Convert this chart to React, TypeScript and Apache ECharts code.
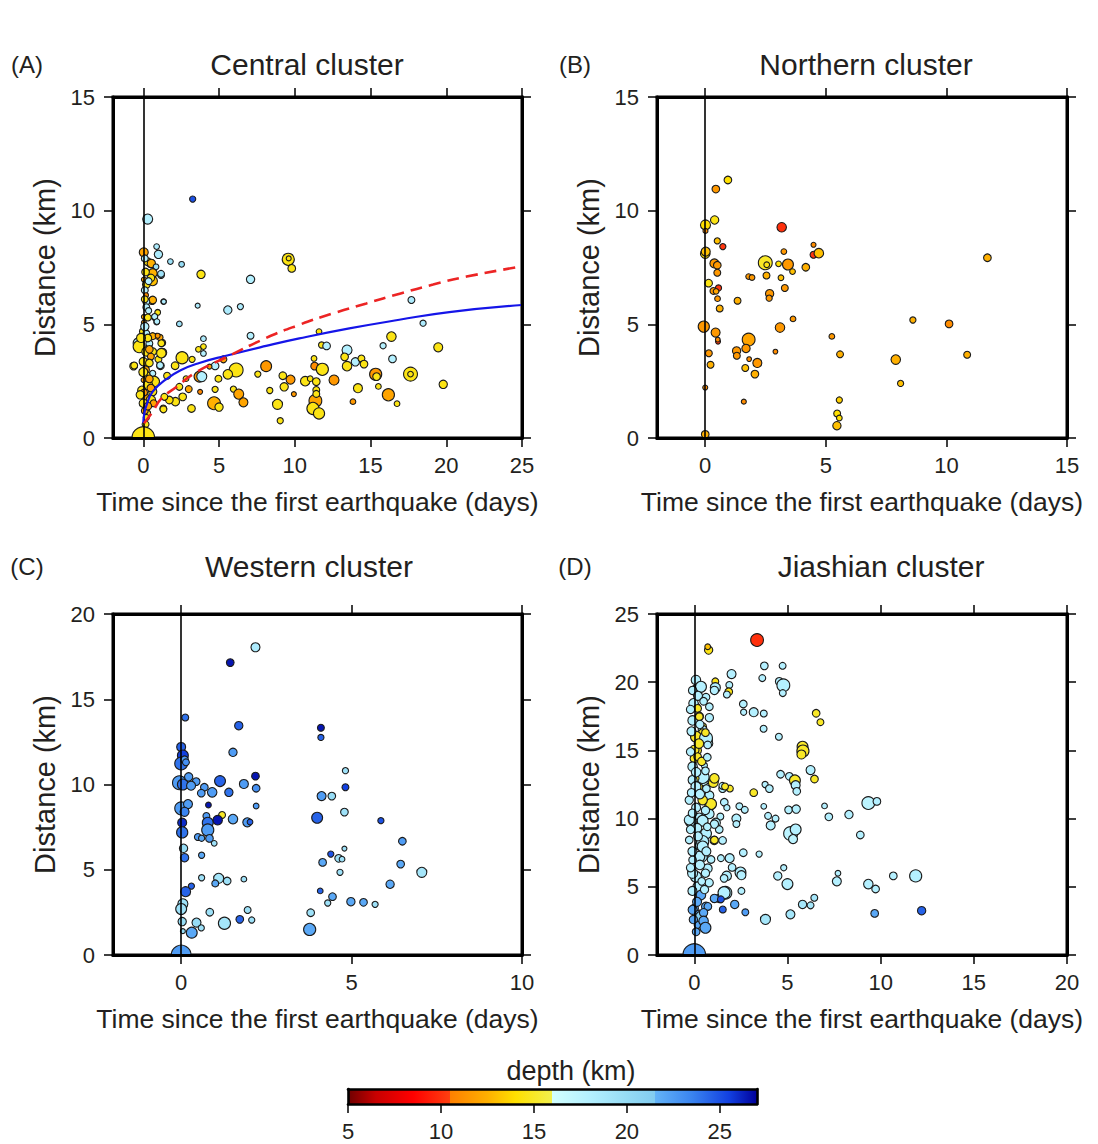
import React, { useEffect, useRef } from "react";
import * as echarts from "echarts";

// ---------- DATA ----------
// each quake: [days since first event, distance (km), depth (km), magnitude-like size class]
const centralQuakes = [
  [3.26,10.51,25,1.8],[0.29,9.63,18,3.6],[0.88,8.42,18.5,1.5],[1.0,8.08,18.5,2.9],[0.03,8.17,12,3.2],
  [1.79,7.76,19.5,1.5],[2.53,7.64,20,1.5],[3.81,7.2,14.5,2.9],[7.08,6.98,18,2.9],[9.57,7.86,14.5,4.3],
  [9.6,7.9,14.5,1.0],[9.8,7.46,14.5,2.6],[1.17,7.17,19,2.2],[0.49,7.68,12.5,2.9],[0.62,6.91,13,3.4],
  [1.34,6.0,18.5,1.5],[3.59,5.82,18.5,1.0],[5.58,5.63,18.5,2.9],[6.41,5.78,18.5,1.8],[17.7,6.07,18.5,2.2],
  [18.47,5.05,18.5,1.8],[2.38,5.02,19.5,1.5],[0.58,6.04,12.5,2.6],[0.74,5.31,18,1.8],[0.88,5.1,18,1.5],
  [0.95,5.55,14,1.0],[7.08,4.5,18,2.2],[11.6,4.68,14,1.5],[3.97,4.37,18.5,1.5],[16.38,4.46,14.5,3.4],
  [19.47,3.99,14.5,3.2],[11.77,4.09,14.5,1.8],[12.1,4.05,18,2.6],[15.83,4.06,18,1.8],[13.45,3.87,18,3.6],
  [3.97,4.02,14.5,1.5],[3.64,3.9,14.5,1.5],[3.97,3.72,18,1.5],[1.25,4.19,14.5,2.2],[1.25,3.75,13.5,3.2],
  [1.1,4.42,12,1.8],[0.88,4.48,11.5,1.5],[2.56,3.53,14.5,4.3],[3.22,3.46,14.5,1.8],[2.1,3.18,14.5,2.6],
  [1.13,3.18,18,2.6],[-0.64,3.16,14.5,2.6],[1.0,3.46,14.5,2.2],[4.74,3.17,18,2.6],[4.37,3.14,11.5,1.0],
  [5.29,3.46,12,2.2],[6.13,2.99,14.5,4.8],[5.58,2.8,14.5,3.4],[8.11,3.16,11.5,3.9],[7.56,2.81,14.5,1.8],
  [11.31,3.16,11,2.6],[11.27,3.5,14.5,1.5],[11.82,3.02,14.5,4.3],[13.29,3.57,14.5,2.6],[13.45,3.16,14.5,3.4],
  [14.0,3.35,18,2.9],[14.4,3.5,14.5,2.2],[14.57,3.25,14.5,2.6],[16.45,3.48,18,2.6],[15.34,2.8,11.5,4.3],
  [15.4,2.7,14.5,2.6],[17.64,2.81,14.5,4.8],[17.64,2.81,14.5,1.5],[19.8,2.36,14.5,2.9],[1.57,2.74,14.5,2.2],
  [3.71,2.7,11.5,3.9],[3.86,2.7,18,3.6],[4.96,2.61,14.5,2.2],[9.21,2.74,14.5,2.6],[9.72,2.57,11.5,3.2],
  [10.69,2.5,14.5,3.4],[11.02,2.61,14.5,1.5],[11.42,2.48,14.5,2.6],[12.59,2.55,11.5,3.6],[2.82,2.61,14.5,1.5],
  [2.38,2.25,14.5,2.2],[3.0,2.15,12,2.2],[3.75,2.03,10.8,1.0],[4.74,2.14,14.5,1.8],[5.95,2.15,14.5,1.8],
  [6.3,1.93,12,3.6],[6.61,1.57,12,3.2],[9.3,2.25,14.5,2.9],[11.42,2.11,14.5,2.2],[14.17,2.19,14.5,3.2],
  [15.52,2.27,14.5,1.5],[16.18,1.9,12,4.3],[9.94,1.93,11.5,1.0],[8.35,2.09,14.5,1.8],[4.67,1.53,12.5,4.5],
  [5.0,1.36,14.5,2.9],[8.86,1.48,14.5,3.6],[11.36,1.64,12,4.5],[11.2,1.3,14.5,4.3],[11.6,1.08,14.5,4.0],
  [11.42,1.94,14.5,2.2],[13.84,1.6,11.5,1.5],[16.75,1.51,14.5,1.5],[9.04,0.76,14.5,1.8],[2.12,1.6,14.5,2.9],
  [1.72,1.67,14,2.6],[1.39,1.81,14.5,2.2],[2.6,1.81,14.5,2.6],[1.32,1.3,14.5,2.2],[3.18,1.3,14.5,2.6],
  [0.28,7.76,14.5,2.6],[0.53,7.68,12.5,2.9],[0.84,7.53,19.5,1.5],[0.62,7.25,12.5,3.2],[0.5,7.04,14.5,2.6],
  [1.17,7.22,19.5,2.2],[0.04,6.97,12,1.0],[0.2,6.75,14.5,2.6],[0.1,6.5,18,2.2],[0.18,6.28,11,1.0],
  [0.62,6.07,12.5,2.6],[0.2,5.99,18,2.2],[0.2,5.75,18,2.2],[1.35,6.0,18.5,1.0],[0.95,5.52,14.5,1.5],
  [0.75,5.34,18,1.8],[0.9,5.12,18,1.5],[0.04,5.33,12,1.0],[0.04,5.07,12,1.0],[0,4.68,14.5,2.6],
  [0.2,4.6,18,2.2],[0.62,4.48,12.5,2.2],[0.95,4.5,11.5,1.0],[-0.31,4.17,18,3.9],[-0.27,4.02,14.5,4.3],
  [0.4,4.16,18,2.2],[1.19,4.17,14.5,2.2],[0.2,3.8,14.5,3.2],[0.62,3.8,14.5,2.6],[1.19,3.73,14.5,3.4],
  [0.5,3.58,12,2.2],[-0.6,3.19,14.5,2.2],[0,3.36,14.5,2.9],[0.4,3.3,14.5,2.6],[1.11,3.2,18,2.2],
  [0.62,2.84,18,1.8],[0.2,2.77,14.5,2.6],[0.71,2.48,14.5,3.9],[0.02,2.55,12,1.0],[0.31,2.33,14.5,3.4],
  [-0.1,2.1,14.5,2.9],[0.62,2.04,14.5,2.9],[0.1,1.82,12,2.6],[0.5,1.67,14.5,3.4],[0,1.53,14.5,2.9],
  [0.68,1.53,12,2.2],[0.28,1.09,14.5,1.8],[1.33,1.26,14.5,2.2],[0.1,7.9,18,2.2],[0.15,3.0,12,2.6],
  [0.3,4.4,14.5,2.6],[0.05,2.0,11.5,2.2],[0.1,1.2,12,2.2],[0.2,0.9,14.5,1.8],[0.35,5.6,18,1.8],
  [0.15,7.3,14.5,2.6],[0.35,6.9,18,2.2],[0.1,6.1,14.5,2.2],[0.3,5.3,14.5,2.2],[0.1,4.9,18,2.9],
  [-0.15,4.4,14.5,3.2],[0.4,3.9,12,2.6],[0.0,2.9,14.5,3.2],[0.4,2.6,12,2.6],[-0.2,1.9,14.5,2.9],
  [0.3,1.4,12,2.6],[0.5,2.2,12,2.6],[0.15,0.6,14.5,2.2],
  [0,0,14.5,6.6]
];

const northernQuakes = [
  [0.94,11.35,14,2.6],[0.44,10.95,11.5,2.6],[0.39,9.59,14.5,2.9],[0.01,9.37,14,3.6],[0.01,9.11,11,1.0],
  [3.17,9.27,10,3.4],[0.5,8.67,13,1.8],[0.73,8.42,10.2,1.8],[0,8.11,14,3.4],[0.02,8.2,13,3.2],
  [3.26,8.2,11.5,1.5],[4.49,8.5,11,1.0],[4.49,8.06,10.2,2.2],[4.71,8.13,13,3.4],[2.49,7.71,15,4.8],
  [2.55,7.62,14.5,1.5],[3.04,7.66,14,1.5],[3.43,7.63,11.5,3.9],[3.62,7.32,13,1.5],[4.17,7.51,12.5,2.6],
  [0.38,7.68,11.5,3.2],[0.5,7.6,11.5,2.6],[0.5,7.27,11.5,2.2],[1.8,7.1,11.5,1.5],[1.94,7.06,11.5,1.5],
  [2.54,7.15,12.5,2.2],[3.14,7.05,13,1.5],[0.14,6.81,14.5,2.6],[0.55,6.6,10.2,1.8],[0.34,6.47,11.5,2.2],
  [0.45,6.45,12,1.5],[0.51,6.13,11.5,1.5],[1.34,6.04,12.5,2.2],[2.67,6.35,11.5,2.9],[2.65,6.15,11.5,1.8],
  [3.3,6.6,11.5,2.2],[0.6,5.7,12.5,2.2],[3.64,5.24,11.5,1.5],[-0.06,4.9,11.5,4.0],[3.1,4.86,11.5,3.4],
  [0.43,4.64,11.5,3.2],[0.53,4.24,10.2,1.0],[0.52,4.33,11,0.8],[1.8,4.33,12,4.5],[1.69,3.94,11.5,2.9],
  [1.3,3.83,11.5,2.9],[1.31,3.62,11.5,2.2],[0.15,3.73,11.5,2.2],[0.22,3.22,12.5,2.2],[1.82,3.47,11,0.8],
  [2.16,3.3,11.5,3.2],[1.66,3.08,13,2.2],[2.06,2.81,12.5,2.6],[2.91,3.8,11,0.8],[5.25,4.47,11.5,1.5],
  [5.59,3.68,12.5,2.2],[8.61,5.19,12.5,1.8],[10.11,5.02,11,2.6],[11.7,7.93,12.5,2.6],[7.9,3.45,12.5,3.4],
  [10.86,3.66,12.5,2.2],[8.1,2.4,13,1.8],[0,2.22,11,1.0],[1.6,1.6,11,1.0],[5.56,1.67,13.5,1.8],
  [5.47,1.08,14,2.2],[5.56,0.88,14,1.5],[5.46,0.54,13,2.9],[0,0.16,12.5,2.6]
];

const westernQuakes = [
  [2.18,18.05,18.5,3.2],[1.44,17.15,26.5,2.6],[0.12,13.93,24,2.2],[1.69,13.45,24.5,2.9],[4.1,13.33,26.5,2.2],
  [4.1,12.76,24.5,1.8],[1.52,11.89,22.5,2.9],[0,12.2,24.5,3.2],[0.05,11.7,25.5,3.9],[0,11.23,24,4.5],
  [0.1,11.45,22.5,2.6],[0.14,11.3,23,2.2],[2.18,10.49,26.5,2.6],[4.82,10.81,19.5,1.8],[4.82,9.84,25.5,2.2],
  [-0.05,10.1,22.5,4.8],[0.05,10.0,24,3.9],[0.22,10.45,22.5,2.9],[0.44,10.17,22.5,2.6],[0.29,9.93,22.5,3.2],
  [0.68,9.84,22.5,2.6],[0.59,9.49,22.5,2.6],[0.91,9.54,22.5,3.4],[1.14,10.2,24.5,3.9],[1.4,9.54,24,2.9],
  [1.84,10.03,22.5,3.2],[2.2,9.78,23,2.6],[4.12,9.32,22.5,3.2],[4.42,9.32,20,2.6],[2.2,8.74,22.5,1.5],
  [0,8.6,22.5,4.5],[0.2,8.85,22.5,3.2],[0.1,8.4,23.5,3.2],[0.8,8.8,26.5,1.5],[0.74,8.15,22.5,2.2],
  [1.2,8.21,15,2.2],[1.07,7.91,26.5,3.4],[0.78,7.76,24,3.9],[0.78,7.33,22.5,4.3],[1.52,7.97,22,3.4],
  [1.94,7.78,22.5,3.2],[2.02,7.8,24.5,1.5],[4.79,8.38,19.5,2.6],[3.99,8.05,24.5,3.9],[5.86,7.88,25,1.8],
  [0.03,7.76,26,3.2],[0.03,7.19,24,4.0],[0.49,6.92,22.5,2.2],[0.6,6.85,22,1.8],[0.83,6.84,22.5,2.6],
  [0.97,6.55,19.5,1.5],[6.49,6.67,22.5,2.6],[0.07,6.26,20,2.9],[0.1,5.71,24,2.9],[0.6,5.85,22,1.8],
  [4.39,5.92,25,1.8],[4.15,5.43,22,2.6],[4.62,5.67,19.5,2.6],[4.72,5.62,19.5,1.5],[4.79,6.24,19.5,1.0],
  [6.44,5.33,22,2.6],[7.06,4.85,19,3.6],[4.66,4.85,19.5,1.8],[0.6,4.53,19.5,1.8],[1.1,4.5,19,3.6],
  [1.0,4.2,22,2.2],[1.35,4.34,19.5,2.6],[1.84,4.45,19.5,1.5],[0.3,4.04,24.5,1.8],[0.13,3.71,24.5,3.6],
  [6.13,4.15,22,2.9],[4.08,3.76,24.5,1.5],[4.44,3.42,22,2.6],[4.3,3.05,19.5,1.8],[4.98,3.13,22,2.9],
  [5.35,3.09,22,2.6],[5.69,2.97,19.5,1.8],[0.05,3.0,19.5,3.6],[0,2.7,19.5,3.9],[0.84,2.51,19.5,2.6],
  [1.95,2.64,19.5,2.2],[3.8,2.48,19.5,2.6],[0.03,1.96,20,2.9],[0.45,1.9,20,3.2],[1.27,1.86,19,4.3],
  [1.72,2.09,24.5,2.6],[2.07,2.05,19.5,1.8],[0.59,1.59,19.5,1.8],[0.31,1.31,22,3.9],[0.05,1.4,20,1.0],
  [3.77,1.5,22,4.3],[0,0,22.5,6.1]
];

const jiashianQuakes = [
  [3.37,23.09,10,4.5],[0.77,22.36,14.5,2.9],[0.72,22.6,13,1.5],[3.76,21.2,18,2.6],[4.74,21.2,18,2.2],
  [2.0,20.6,18,3.2],[3.65,20.3,18,2.2],[4.56,20.06,18,2.6],[4.78,19.77,18,4.5],[4.75,19.2,18,2.2],
  [1.13,20.06,14.5,2.2],[1.13,19.6,18,3.6],[1.88,19.8,18,2.2],[1.85,19.3,14.5,2.6],[1.75,19.1,18,2.2],
  [2.63,18.4,18,2.6],[2.65,17.8,18,1.8],[3.19,17.8,18,3.2],[3.73,17.7,18,2.2],[6.54,17.72,15,2.6],
  [6.77,17.07,15,2.2],[3.72,16.59,18,2.2],[4.54,16.0,18,2.2],[0.63,15.76,18,4.5],[0.81,15.5,18,2.2],
  [5.81,15.27,15,3.9],[5.83,14.95,15,4.3],[5.75,14.7,15,3.2],[6.24,13.56,18,3.2],[6.45,12.9,15,2.6],
  [4.63,13.25,18,2.6],[5.1,13.1,18,2.6],[5.4,12.8,15,3.9],[5.44,12.45,18,3.2],[5.5,12.0,18,2.6],
  [3.8,12.5,18,1.8],[4.03,12.2,18,2.6],[3.19,11.9,15,2.6],[1.91,12.2,15,2.2],[1.52,12.2,18,2.6],
  [1.02,12.66,15,3.6],[0.45,12.88,17,4.5],[0.81,11.7,18,3.2],[1.61,11.2,18,2.6],[1.75,10.8,18,1.8],
  [0.81,10.9,15,3.4],[2.42,10.9,18,2.2],[2.71,10.64,18,2.2],[2.26,10.0,18,3.2],[2.26,9.6,18,2.2],
  [1.4,10.15,18,2.2],[3.73,10.9,18,1.5],[5.06,10.64,18,2.6],[5.47,10.7,18,2.9],[6.99,10.93,18,1.5],
  [9.34,11.14,17.5,4.5],[9.8,11.26,18,2.6],[7.22,10.13,18,2.6],[8.3,10.3,18,2.9],[8.91,8.8,18,2.6],
  [3.96,10.2,18,2.2],[4.36,10.0,18,2.2],[4.1,9.5,18,3.2],[5.17,8.9,17.5,4.8],[5.44,9.2,18,3.9],
  [5.3,8.5,17.5,3.2],[1.16,9.7,18,3.2],[1.34,9.2,18,2.6],[0.63,8.9,18,3.9],[1.07,8.4,15,2.9],
  [1.52,8.4,18,2.6],[0.36,8.05,18,3.9],[2.63,7.5,18,2.6],[3.48,7.4,18,1.8],[0.45,7.2,18,3.4],
  [1.43,7.1,18,2.2],[1.9,7.1,18,3.2],[2.03,6.42,18,2.6],[2.48,6.05,18,3.9],[2.53,5.85,18,3.2],
  [4.8,6.4,18,1.8],[1.74,5.8,18,3.4],[4.48,5.8,18,2.9],[5.0,5.2,18,3.9],[7.71,5.99,18,1.5],
  [7.65,5.4,18,3.2],[9.34,5.2,18,3.4],[9.73,4.84,18,2.6],[10.68,5.8,18,2.6],[11.88,5.8,18,4.3],
  [1.67,4.56,18,4.5],[2.53,4.7,18,2.2],[1.34,4.15,23,2.9],[1.07,4.1,22.5,2.2],[2.17,3.71,22,2.9],
  [1.53,3.34,24.5,2.2],[2.74,3.13,22.5,2.2],[3.82,2.61,19,3.6],[5.16,2.98,19,3.2],[5.81,3.71,19,2.9],
  [6.24,3.64,19,2.2],[6.44,4.2,19,2.2],[9.68,3.05,22,2.6],[12.2,3.25,24.5,2.9],
  [0.13,19.43,18,3.9],[0.09,20.16,18,3.4],[0.36,19.67,18,3.9],[1.08,19.4,18,2.9],[-0.09,19.4,18,2.9],
  [0.63,18.9,18,2.6],[0.09,18.2,15,2.9],[-0.04,18.45,18,3.4],[0.81,18.2,18,2.6],[0.18,18.08,15,2.6],
  [0.27,17.5,15,2.9],[-0.09,17.2,18,3.4],[0.81,17.4,18,2.9],[0.27,17.47,15,2.6],[0.45,16.74,15,2.6],
  [0.45,16.5,18,3.2],[0.45,16.25,15,3.2],[0.09,16.0,15,3.9],[0.63,15.9,18,4.5],[0.72,15.4,18,2.6],
  [0.18,15.0,15,2.6],[0,15.03,15,3.4],[0,14.4,15,2.9],[0.18,14.54,15,2.6],[0.54,13.9,18,1.8],
  [-0.09,13.81,18,3.4],[0.45,13.05,18,4.5],[1.08,12.95,15,3.4],[0.05,12.95,15,2.6],[1.51,12.4,18,2.2],
  [1.65,12.35,15,2.2],[-0.09,12.83,18,3.2],[0.27,12.34,15,2.2],[0.09,12.34,18,3.6],[0.9,11.07,15,3.9],
  [-0.27,11.36,18,2.9],[0.45,11.36,15,3.4],[0.81,10.34,18,3.4],[0.27,10.13,18,2.6],[0.45,9.85,18,3.9],
  [-0.18,9.77,18,3.9],[1.08,9.6,18,2.9],[-0.27,9.9,18,3.6],[0.45,8.31,18,4.3],[1.08,8.43,15,2.6],
  [-0.27,8.43,18,2.6],[0.27,7.2,18,3.9],[0.45,7.95,18,3.9],[0.9,7.0,18,2.6],[-0.09,6.97,18,2.6],
  [0.72,6.35,18,3.2],[0.09,5.74,18,3.9],[1.6,5.62,18,2.6],[0.8,5.3,18,2.9],[-0.09,5.99,18,3.6],
  [0.18,5.01,18,3.4],[1.6,4.56,18,4.3],[0.27,4.29,18,3.2],[0.36,4.4,22,3.4],[1.08,4.15,22,2.9],
  [1.43,4.08,25,2.2],[0.63,3.54,22,3.2],[0,3.42,22,2.9],[-0.09,3.31,22,3.2],[0.73,3.56,22,2.6],
  [0.27,2.94,22,3.4],[0.36,2.81,21,3.9],[0.18,2.2,22,2.2],
  [0.2,19.0,18,3.2],[0.5,18.6,18,2.6],[-0.2,18.0,18,2.9],[0.3,16.9,18,2.9],[-0.15,16.4,18,3.2],
  [0.6,16.3,15,2.6],[0.25,15.5,15,3.4],[-0.2,14.9,18,2.9],[0.4,14.2,15,2.9],[0.7,14.5,18,2.6],
  [0.1,13.4,18,3.4],[0.6,13.5,18,2.6],[0.3,11.8,18,3.4],[-0.15,11.9,18,2.9],[0.65,12.2,18,2.6],
  [0.1,10.8,18,3.2],[0.6,10.6,18,2.9],[-0.1,10.4,18,2.9],[0.15,9.3,18,3.4],[0.7,9.4,18,2.6],
  [-0.2,9.2,18,2.9],[0.2,8.7,18,3.2],[0.65,7.6,18,3.2],[-0.1,7.6,18,3.2],[0.3,6.6,18,3.4],
  [-0.2,6.4,18,2.9],[0.6,6.0,18,2.9],[0.4,5.4,18,2.6],[-0.1,4.7,18,3.2],[0.55,4.8,18,2.9],
  [0.15,3.9,22,3.2],[0.5,3.1,22,2.9],[-0.05,2.6,22,2.9],[0.5,2.5,22,3.4],[0.1,1.7,22,2.6],
  [0.6,2.0,22,3.9],
  [0,0,22.5,6.6]
];

// diffusion-type envelope curves in the Central cluster panel
const blueCurveT = [0, 0.05, 0.18, 0.62, 1.5, 2.5, 3.7, 5.47, 8.11, 10.3, 13.6, 16.9, 20.2, 25];
const blueCurveR = [0.66, 1.0, 1.38, 2.04, 2.58, 2.99, 3.3, 3.62, 4.05, 4.38, 4.82, 5.2, 5.54, 5.85];
const redCurveT = [0.05, 0.62, 1.17, 2.16, 3.48, 5.47, 8.11, 10.3, 12.52, 14.73, 16.93, 19.13, 21.34, 25];
const redCurveR = [0.65, 1.16, 1.72, 2.23, 2.89, 3.55, 4.4, 4.98, 5.48, 5.92, 6.35, 6.75, 7.1, 7.55];

// depth colour scale (km) and its colours
const depthStops = [5, 6.5, 8.5, 10.5, 10.5, 12.5, 14, 16, 16, 18, 20, 21.5, 21.5, 23.5, 25.5, 27];
const depthColors = ["#6e0000", "#c80000", "#ff0000", "#ff4010", "#ff8000", "#ffb000", "#ffe000", "#f2f04e",
  "#d2ffff", "#b4f0ff", "#96dcf5", "#82ccf0", "#64b4f8", "#3a84f0", "#1240e0", "#00009a"];
const colorbarRange = [5, 27];
const colorbarTicks = [5, 10, 15, 20, 25];

const panelTitles = ["Central cluster", "Northern cluster", "Western cluster", "Jiashian cluster"];
const panelLetters = ["(A)", "(B)", "(C)", "(D)"];
const panelXMax = [25, 15, 10, 20];
const panelYMax = [15, 15, 20, 25];
const panelXTicks = [[0, 5, 10, 15, 20, 25], [0, 5, 10, 15], [0, 5, 10], [0, 5, 10, 15, 20]];
const panelYTicks = [[0, 5, 10, 15], [0, 5, 10, 15], [0, 5, 10, 15, 20], [0, 5, 10, 15, 20, 25]];
const panelData = [centralQuakes, northernQuakes, westernQuakes, jiashianQuakes];
const xMin = -2;

// ---------- LAYOUT / STYLE ----------
const FONT = "'Liberation Sans', Arial, Helvetica, sans-serif";
const TXT = "#231f20";
const gridRects = [
  { left: 113, top: 97, width: 409, height: 341 },
  { left: 657, top: 97, width: 410, height: 341 },
  { left: 113, top: 614, width: 409, height: 341 },
  { left: 657, top: 614, width: 410, height: 341 },
];
const titlePos = [[307, 64], [866, 64], [309, 566], [881, 566]];
const letterPos = [[27, 64], [575, 64], [27, 566], [575, 566]];
const cbRect = { left: 348, top: 1089, width: 409, height: 15 };

function hexRgb(h: string) {
  return [parseInt(h.slice(1, 3), 16), parseInt(h.slice(3, 5), 16), parseInt(h.slice(5, 7), 16)];
}
function depthColor(d: number) {
  const lo = depthStops[0], hi = depthStops[depthStops.length - 1];
  const v = Math.max(lo, Math.min(hi, d));
  for (let i = 0; i < depthStops.length - 1; i++) {
    const a = depthStops[i], b = depthStops[i + 1];
    if (b > a && v >= a && v <= b) {
      const f = (v - a) / (b - a);
      const c0 = hexRgb(depthColors[i]), c1 = hexRgb(depthColors[i + 1]);
      const c = c0.map((x, k) => Math.round(x + (c1[k] - x) * f));
      return `rgb(${c[0]},${c[1]},${c[2]})`;
    }
  }
  return depthColors[depthColors.length - 1];
}
const magToSize = (m: number) => 3.8 * Math.exp(0.27 * m);

function axisBase(gi: number, min: number, max: number, ticks: number[] | null) {
  return {
    type: "value",
    gridIndex: gi,
    min,
    max,
    z: 10,
    splitLine: { show: false },
    axisLine: { show: true, onZero: false, lineStyle: { color: "#000", width: 3 } },
    axisTick: ticks
      ? { show: true, inside: false, length: 9, customValues: ticks, lineStyle: { color: "#000", width: 1.5 } }
      : { show: false },
    axisLabel: { show: false },
  };
}

function buildOption() {
  const grid: any[] = [];
  const xAxis: any[] = [];
  const yAxis: any[] = [];
  const series: any[] = [];
  const graphic: any[] = [];

  for (let i = 0; i < 4; i++) {
    grid.push({ ...gridRects[i], show: true, borderColor: "#000", borderWidth: 3, backgroundColor: "#fff", outerBoundsMode: "none", containLabel: false });
    const xt = panelXTicks[i], yt = panelYTicks[i];
    xAxis.push({
      ...axisBase(i, xMin, panelXMax[i], xt),
      position: "bottom",
      axisLabel: { show: true, customValues: xt, fontSize: 22, color: TXT, fontFamily: FONT, margin: 16 },
      name: "Time since the first earthquake (days)",
      nameLocation: "middle",
      nameGap: 50,
      nameTextStyle: { fontSize: 26.5, color: TXT, fontFamily: FONT },
    });
    xAxis.push({ ...axisBase(i, xMin, panelXMax[i], xt), position: "top" });
    yAxis.push({
      ...axisBase(i, 0, panelYMax[i], yt),
      position: "left",
      axisLabel: { show: true, customValues: yt, fontSize: 22, color: TXT, fontFamily: FONT, margin: 18 },
      name: "Distance (km)",
      nameLocation: "middle",
      nameGap: 54,
      nameTextStyle: { fontSize: 29, color: TXT, fontFamily: FONT },
    });
    yAxis.push({ ...axisBase(i, 0, panelYMax[i], yt), position: "right" });

    series.push({
      type: "custom",
      name: panelTitles[i],
      xAxisIndex: 2 * i,
      yAxisIndex: 2 * i,
      clip: true,
      z: 3,
      data: panelData[i],
      encode: { x: 0, y: 1 },
      renderItem: (params: any, api: any) => {
        const p = api.coord([api.value(0), api.value(1)]);
        const r = magToSize(api.value(3)) / 2;
        return {
          type: "circle",
          shape: { cx: p[0], cy: p[1], r },
          style: { fill: depthColor(api.value(2)), stroke: "#1a1a1a", lineWidth: 1.1 },
        };
      },
    });
    series.push({
      type: "line",
      xAxisIndex: 2 * i,
      yAxisIndex: 2 * i,
      data: [],
      z: 6,
      markLine: {
        silent: true,
        symbol: ["none", "none"],
        label: { show: false },
        lineStyle: { color: "#000", width: 1.6, type: "solid" },
        data: [{ xAxis: 0 }],
      },
    });

    graphic.push({
      type: "text", x: titlePos[i][0], y: titlePos[i][1],
      style: { text: panelTitles[i], fontSize: 30, fontFamily: FONT, fill: TXT, align: "center", verticalAlign: "middle", textAlign: "center", textVerticalAlign: "middle" },
    });
    graphic.push({
      type: "text", x: letterPos[i][0], y: letterPos[i][1],
      style: { text: panelLetters[i], fontSize: 24, fontFamily: FONT, fill: TXT, align: "center", verticalAlign: "middle", textAlign: "center", textVerticalAlign: "middle" },
    });
  }

  // envelope curves in panel A
  series.push({
    type: "line", xAxisIndex: 0, yAxisIndex: 0, z: 5, smooth: true, showSymbol: false, silent: true,
    data: blueCurveT.map((t, k) => [t, blueCurveR[k]]),
    lineStyle: { color: "#1515e8", width: 2.2 },
  });
  series.push({
    type: "line", xAxisIndex: 0, yAxisIndex: 0, z: 5, smooth: true, showSymbol: false, silent: true,
    data: redCurveT.map((t, k) => [t, redCurveR[k]]),
    lineStyle: { color: "#ec2424", width: 2.6, type: [12, 7] },
  });

  // colour bar
  grid.push({ ...cbRect, show: false, outerBoundsMode: "none", containLabel: false });
  const cbAxisX = (pos: string, ticks: number[] | null) => ({
    ...axisBase(4, colorbarRange[0], colorbarRange[1], ticks),
    position: pos,
    axisLine: { show: true, onZero: false, lineStyle: { color: "#000", width: 2.6 } },
  });
  xAxis.push({
    ...cbAxisX("bottom", colorbarTicks),
    axisLabel: { show: true, customValues: colorbarTicks, fontSize: 22, color: TXT, fontFamily: FONT, margin: 16 },
  });
  xAxis.push(cbAxisX("top", null));
  yAxis.push({ ...axisBase(4, 0, 1, null), position: "left", axisLine: { show: true, onZero: false, lineStyle: { color: "#000", width: 2.6 } } });
  yAxis.push({ ...axisBase(4, 0, 1, null), position: "right", axisLine: { show: true, onZero: false, lineStyle: { color: "#000", width: 2.6 } } });

  const span = colorbarRange[1] - colorbarRange[0];
  const gradStops = depthStops.map((s, k) => ({ offset: (s - colorbarRange[0]) / span, color: depthColors[k] }));
  series.push({
    type: "custom",
    xAxisIndex: 8,
    yAxisIndex: 8,
    z: 2,
    silent: true,
    data: [[colorbarRange[0], colorbarRange[1]]],
    renderItem: (params: any, api: any) => {
      const a = api.coord([api.value(0), 1]);
      const b = api.coord([api.value(1), 0]);
      return {
        type: "rect",
        shape: { x: a[0], y: a[1], width: b[0] - a[0], height: b[1] - a[1] },
        style: { fill: new echarts.graphic.LinearGradient(0, 0, 1, 0, gradStops) },
      };
    },
  });
  graphic.push({
    type: "text", x: 571, y: 1071,
    style: { text: "depth (km)", fontSize: 27, fontFamily: FONT, fill: TXT, align: "center", verticalAlign: "middle", textAlign: "center", textVerticalAlign: "middle" },
  });

  return {
    animation: false,
    backgroundColor: "#fff",
    grid,
    xAxis,
    yAxis,
    series,
    graphic,
  };
}

export default function App() {
  const ref = useRef<HTMLDivElement>(null);
  useEffect(() => {
    if (!ref.current) return;
    const chart = echarts.init(ref.current, null, { renderer: "svg" });
    chart.setOption(buildOption() as any);
    return () => chart.dispose();
  }, []);
  return (
    <div
      ref={ref}
      style={{ position: "fixed", left: 0, top: 0, width: 1098, height: 1144, background: "#fff" }}
    />
  );
}
